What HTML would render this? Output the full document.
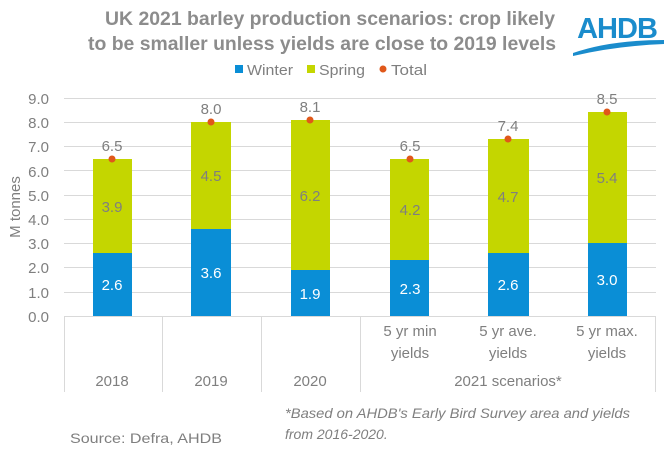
<!DOCTYPE html>
<html><head><meta charset="utf-8"><style>
body{margin:0;background:#fff}
svg text{font-family:"Liberation Sans",Arial,sans-serif}
</style></head><body>
<svg width="667" height="451" viewBox="0 0 667 451" xmlns="http://www.w3.org/2000/svg">
<rect width="667" height="451" fill="#fff"/>
<g font-weight="bold" font-size="19" fill="#8c8c8c" text-anchor="middle">
<text x="330" y="25" textLength="450" lengthAdjust="spacingAndGlyphs">UK 2021 barley production scenarios: crop likely</text>
<text x="322" y="50" textLength="468" lengthAdjust="spacingAndGlyphs">to be  smaller unless yields are close to 2019 levels</text>
</g>
<text x="617" y="38" font-size="29" font-weight="bold" fill="#1a8ccc" text-anchor="middle" letter-spacing="-1">AHDB</text>
<path d="M573 53 Q610 40 664 40 L664 44 Q615 46 573 56 Z" fill="#1a8ccc"/>
<g font-size="15" fill="#7f7f7f">
<rect x="235" y="65" width="8" height="8" fill="#0a8ed6"/><text x="247" y="75" textLength="46" lengthAdjust="spacingAndGlyphs">Winter</text>
<rect x="307" y="65" width="8" height="8" fill="#c4d600"/><text x="319" y="75" textLength="46" lengthAdjust="spacingAndGlyphs">Spring</text>
<circle cx="383" cy="69" r="3.5" fill="#e0581a"/><text x="391" y="75" textLength="36" lengthAdjust="spacingAndGlyphs">Total</text>
</g>
<g stroke="#d9d9d9" stroke-width="1">
<line x1="64" x2="656" y1="98.5" y2="98.5"/><line x1="64" x2="656" y1="122.5" y2="122.5"/>
<line x1="64" x2="656" y1="146.5" y2="146.5"/><line x1="64" x2="656" y1="170.5" y2="170.5"/>
<line x1="64" x2="656" y1="195.5" y2="195.5"/><line x1="64" x2="656" y1="219.5" y2="219.5"/>
<line x1="64" x2="656" y1="243.5" y2="243.5"/><line x1="64" x2="656" y1="267.5" y2="267.5"/>
<line x1="64" x2="656" y1="292.5" y2="292.5"/><line x1="64" x2="656" y1="316.5" y2="316.5"/>
<line x1="64.5" x2="64.5" y1="316" y2="392"/><line x1="162.5" x2="162.5" y1="316" y2="392"/>
<line x1="261.5" x2="261.5" y1="316" y2="392"/><line x1="360.5" x2="360.5" y1="316" y2="392"/>
<line x1="655.5" x2="655.5" y1="316" y2="392"/>
</g>
<g font-size="15" fill="#7f7f7f" text-anchor="end">
<text x="49" y="104">9.0</text><text x="49" y="128">8.0</text><text x="49" y="152">7.0</text>
<text x="49" y="177">6.0</text><text x="49" y="201">5.0</text><text x="49" y="225">4.0</text>
<text x="49" y="249">3.0</text><text x="49" y="273">2.0</text><text x="49" y="298">1.0</text>
<text x="49" y="322">0.0</text>
</g>
<text transform="translate(20 207) rotate(-90)" font-size="15" fill="#7f7f7f" text-anchor="middle">M tonnes</text>
<g>
<rect x="93" y="253" width="39" height="63" fill="#0a8ed6"/><rect x="93" y="159" width="39" height="94" fill="#c4d600"/>
<rect x="191" y="229" width="40" height="87" fill="#0a8ed6"/><rect x="191" y="122" width="40" height="107" fill="#c4d600"/>
<rect x="291" y="270" width="39" height="46" fill="#0a8ed6"/><rect x="291" y="120" width="39" height="150" fill="#c4d600"/>
<rect x="390" y="260" width="39" height="56" fill="#0a8ed6"/><rect x="390" y="159" width="39" height="101" fill="#c4d600"/>
<rect x="488" y="253" width="41" height="63" fill="#0a8ed6"/><rect x="488" y="139" width="41" height="114" fill="#c4d600"/>
<rect x="588" y="243" width="39" height="73" fill="#0a8ed6"/><rect x="588" y="112" width="39" height="131" fill="#c4d600"/>
</g>
<g fill="#e0581a">
<circle cx="112" cy="159" r="3.5"/><circle cx="211" cy="122" r="3.5"/><circle cx="310" cy="120" r="3.5"/>
<circle cx="410" cy="159" r="3.5"/><circle cx="508" cy="139" r="3.5"/><circle cx="607" cy="112" r="3.5"/>
</g>
<g font-size="15" text-anchor="middle">
<g fill="#fff">
<text x="112" y="290">2.6</text><text x="211" y="278">3.6</text><text x="310" y="299">1.9</text>
<text x="410" y="294">2.3</text><text x="508" y="290">2.6</text><text x="607" y="285">3.0</text>
</g>
<g fill="#7f7f7f">
<text x="112" y="212">3.9</text><text x="211" y="181">4.5</text><text x="310" y="201">6.2</text>
<text x="410" y="215">4.2</text><text x="508" y="202">4.7</text><text x="607" y="183">5.4</text>
<text x="112" y="151">6.5</text><text x="211" y="114">8.0</text><text x="310" y="112">8.1</text>
<text x="410" y="151">6.5</text><text x="508" y="131">7.4</text><text x="607" y="104">8.5</text>
<text x="410" y="336">5 yr min</text><text x="410" y="358">yields</text>
<text x="508" y="336">5 yr ave.</text><text x="508" y="358">yields</text>
<text x="607" y="336">5 yr max.</text><text x="607" y="358">yields</text>
<text x="112" y="386">2018</text><text x="211" y="386">2019</text><text x="310" y="386">2020</text>
<text x="508" y="386">2021 scenarios*</text>
</g>
</g>
<g font-size="14" fill="#7f7f7f">
<text x="70" y="443" textLength="152" lengthAdjust="spacingAndGlyphs">Source: Defra, AHDB</text>
<text x="285" y="418" font-style="italic" textLength="345" lengthAdjust="spacingAndGlyphs">*Based on AHDB's Early Bird Survey area and yields</text>
<text x="285" y="439" font-style="italic">from 2016-2020.</text>
</g>
</svg>
</body></html>
